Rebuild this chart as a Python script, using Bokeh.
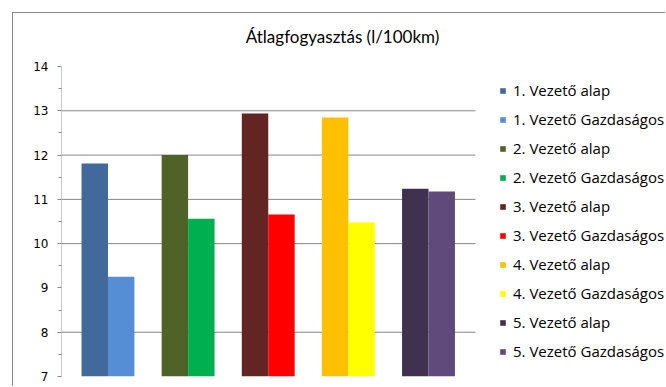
from bokeh.plotting import figure
from bokeh.models import (ColumnDataSource, Range1d, FixedTicker, Legend, LegendItem, Label)
from bokeh.transform import dodge
from bokeh.embed import file_html
from bokeh.resources import INLINE

# Average fuel consumption per driver, normal vs. economical driving
title_text = "Átlagfogyasztás (l/100km)"
drivers = ["1. Vezető", "2. Vezető", "3. Vezető", "4. Vezető", "5. Vezető"]
alap = [11.81, 12.00, 12.94, 12.85, 11.24]
gazdasagos = [9.25, 10.56, 10.66, 10.48, 11.18]
alap_colors = ["#41699C", "#4F6228", "#632523", "#FFC000", "#403151"]
gazd_colors = ["#558ED5", "#00B050", "#FF0000", "#FFFF00", "#604A7B"]
y_ticks = [7, 8, 9, 10, 11, 12, 13, 14]
grid_ticks = [8, 10, 11, 12, 13]

bar_w = 0.33
x_start = -0.58
plot_x_end = 4.587   # right end of the bar area; the legend lives beyond it
view_x_end = 6.97
y_min, y_max = 7, 14
view_y_end = 15.197  # headroom above the axis for the title

p = figure(width=653, height=374, output_backend="svg", toolbar_location=None,
           x_range=Range1d(x_start, view_x_end), y_range=Range1d(y_min, view_y_end),
           min_border_left=48, min_border_right=0, min_border_top=0,
           min_border_bottom=11)
p.margin = (12, 0, 0, 12)
p.styles = {"border-top": "1px solid #8A8A8A", "border-left": "1px solid #8A8A8A"}
p.outline_line_color = None
p.background_fill_color = "white"
p.border_fill_color = "white"

p.add_layout(Label(x=2.927, y=14.687, text=title_text, text_align="center",
                   text_baseline="alphabetic", text_font="Lato",
                   text_font_size="17px", text_color="#000000"))

# horizontal gridlines, limited to the bar area
p.xgrid.visible = False
p.ygrid.visible = False
p.segment(x0=[x_start] * len(grid_ticks), x1=[plot_x_end] * len(grid_ticks),
          y0=grid_ticks, y1=grid_ticks, line_color="#868686", line_width=1)

items = []
for i, name in enumerate(drivers):
    src = ColumnDataSource(dict(x=[i], a=[alap[i]], g=[gazdasagos[i]]))
    ra = p.vbar(x=dodge("x", -bar_w / 2, range=p.x_range), top="a", bottom=y_min,
                width=bar_w, source=src, fill_color=alap_colors[i], line_color=None)
    rg = p.vbar(x=dodge("x", bar_w / 2, range=p.x_range), top="g", bottom=y_min,
                width=bar_w, source=src, fill_color=gazd_colors[i], line_color=None)
    items.append(LegendItem(label=f"{name} alap", renderers=[ra]))
    items.append(LegendItem(label=f"{name} Gazdaságos", renderers=[rg]))

p.xaxis.visible = False

yax = p.yaxis[0]
yax.bounds = (y_min, y_max)
yax.ticker = FixedTicker(ticks=y_ticks, minor_ticks=[t + 0.5 for t in y_ticks[:-1]])
yax.axis_line_color = "#C8C8C8"
yax.major_tick_line_color = "#8A8A8A"
yax.minor_tick_line_color = "#8A8A8A"
yax.major_tick_in = 0
yax.major_tick_out = 4
yax.minor_tick_in = 0
yax.minor_tick_out = 3
yax.major_label_standoff = 9
yax.major_label_text_font = "DejaVu Sans"
yax.major_label_text_font_size = "12px"
yax.major_label_text_color = "#000000"

legend = Legend(items=items, location=(438, 15), orientation="vertical",
                glyph_width=7, glyph_height=7, label_height=20, label_standoff=7,
                spacing=9, padding=0, margin=0,
                border_line_color=None, background_fill_alpha=0,
                label_text_font="Open Sans", label_text_font_size="15px",
                label_text_color="#000000")
p.add_layout(legend)

open("out.html", "w").write(file_html(p, INLINE))
